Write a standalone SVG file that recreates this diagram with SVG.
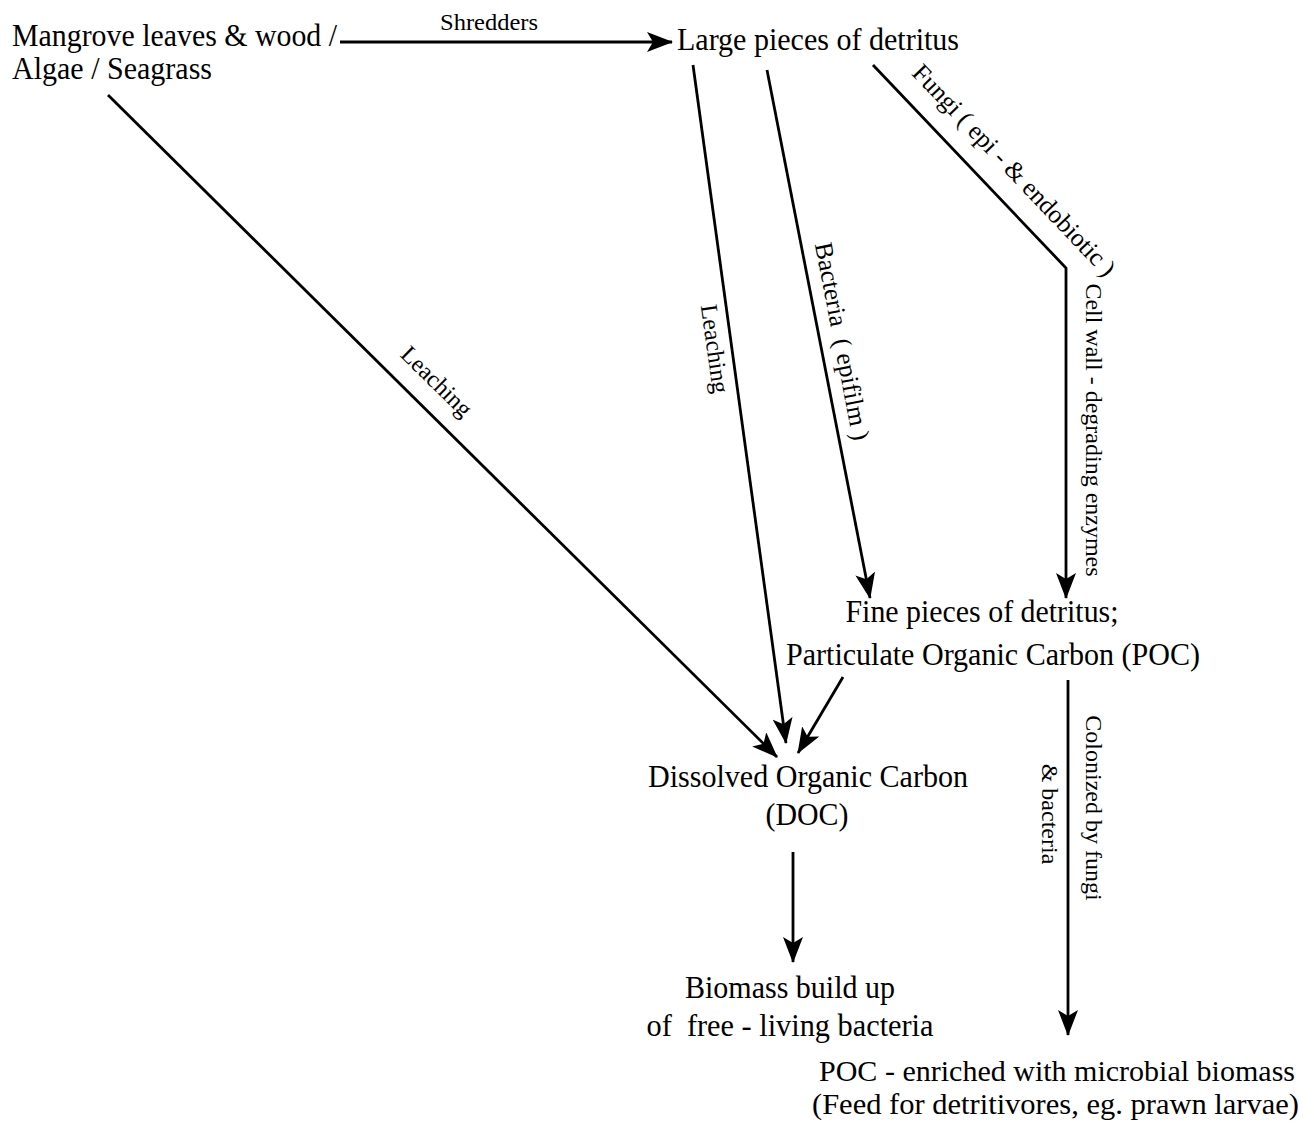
<svg xmlns="http://www.w3.org/2000/svg" width="1314" height="1124" viewBox="0 0 1314 1124">
<style>
.n{font-family:"Liberation Serif","Times New Roman",serif;font-size:32px;fill:#000}
.e{font-family:"Liberation Serif","Times New Roman",serif;font-size:29px;fill:#000}
.l{font-family:"Liberation Serif","Times New Roman",serif;font-size:24px;fill:#000}
.lb{font-family:"Liberation Serif","Times New Roman",serif;font-size:25.5px;fill:#000}
.c{fill:none;stroke:#000;stroke-width:2.8;marker-end:url(#ah)}
.m{text-anchor:middle}
</style>
<defs>
<marker id="ah" viewBox="0 0 26 20" refX="25" refY="10" markerWidth="26" markerHeight="20" markerUnits="userSpaceOnUse" orient="auto">
<path d="M0,0 L26,10 L0,20 L6,10 Z" fill="#000"/>
</marker>
</defs>
<rect width="1314" height="1124" fill="#fff"/>
<g id="connectors">
<line class="c" x1="340" y1="42" x2="672" y2="42"/>
<line class="c" x1="108" y1="95" x2="777" y2="757"/>
<line class="c" x1="693" y1="65" x2="786" y2="743"/>
<line class="c" x1="767" y1="70" x2="870" y2="598"/>
<polyline class="c" points="873,65 1066,268 1066,598"/>
<line class="c" x1="843" y1="677" x2="798" y2="753"/>
<line class="c" x1="793" y1="852" x2="793" y2="962"/>
<line class="c" x1="1068" y1="680" x2="1068" y2="1035"/>
</g>
<g id="edge-labels">
<text class="l m" x="489" y="30" textLength="98" lengthAdjust="spacingAndGlyphs">Shredders</text>
<text class="l m" transform="translate(431,387) rotate(44.5)">Leaching</text>
<text class="l m" transform="translate(707,350) rotate(82)">Leaching</text>
<text class="lb m" transform="translate(834,343) rotate(79)" xml:space="preserve">Bacteria  ( epifilm )</text>
<text class="lb m" transform="translate(1008,176) rotate(46.4)">Fungi ( epi - &amp; endobiotic )</text>
<text class="l m" transform="translate(1086,430) rotate(90)">Cell wall - degrading enzymes</text>
<text class="l m" transform="translate(1086,808) rotate(90)">Colonized by fungi</text>
<text class="l m" transform="translate(1042,814) rotate(90)">&amp; bacteria</text>
</g>
<g id="node-source">
<text class="n" x="12" y="46" textLength="325" lengthAdjust="spacingAndGlyphs">Mangrove leaves &amp; wood /</text>
<text class="n" x="12" y="79" textLength="200" lengthAdjust="spacingAndGlyphs">Algae / Seagrass</text>
</g>
<g id="node-large">
<text class="n" x="677" y="50" textLength="282" lengthAdjust="spacingAndGlyphs">Large pieces of detritus</text>
</g>
<g id="node-poc">
<text class="n m" x="982" y="622" textLength="273" lengthAdjust="spacingAndGlyphs">Fine pieces of detritus;</text>
<text class="n m" x="993" y="665" textLength="414" lengthAdjust="spacingAndGlyphs">Particulate Organic Carbon (POC)</text>
</g>
<g id="node-doc">
<text class="n m" x="808" y="787" textLength="320" lengthAdjust="spacingAndGlyphs">Dissolved Organic Carbon</text>
<text class="n m" x="807" y="825" textLength="83" lengthAdjust="spacingAndGlyphs">(DOC)</text>
</g>
<g id="node-biomass">
<text class="n m" x="790" y="998" textLength="210" lengthAdjust="spacingAndGlyphs">Biomass build up</text>
<text class="n m" x="790" y="1036" textLength="287" lengthAdjust="spacingAndGlyphs" xml:space="preserve">of  free - living bacteria</text>
</g>
<g id="node-enriched">
<text class="e" x="819" y="1081" textLength="476" lengthAdjust="spacingAndGlyphs">POC - enriched with microbial biomass</text>
<text class="e" x="812" y="1114" textLength="487" lengthAdjust="spacingAndGlyphs">(Feed for detritivores, eg. prawn larvae)</text>
</g>
</svg>
